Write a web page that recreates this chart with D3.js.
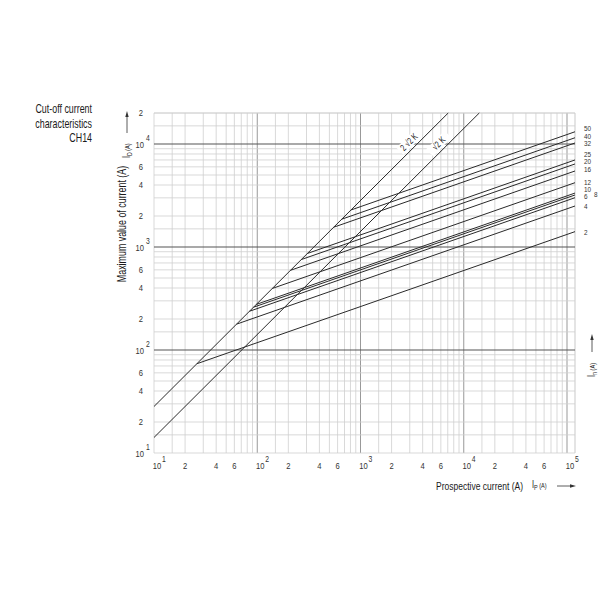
<!DOCTYPE html>
<html>
<head>
<meta charset="utf-8">
<script src="https://cdn.jsdelivr.net/npm/d3@7"></script>
<style>
  body { margin: 0; background: #fff; }
  svg { display: block; }
  text { font-family: "Liberation Sans", Arial, sans-serif; fill: #333; }
</style>
</head>
<body>
<svg id="chart" width="600" height="600"></svg>
<script>
// ---- data ----
const ratings = [2, 4, 6, 8, 10, 12, 16, 20, 25, 32, 40, 50];          // In (A)
const startIp = [26, 63, 84, 92, 98, 140, 210, 267, 306, 550, 658, 809]; // Ip where curve leaves the 2√2 line
const endIc   = [1410, 2500, 3010, 3200, 3340, 4210, 5470, 6400, 7000, 10230, 11500, 13150]; // cut-off current at right border
const ratingLabelAt = [1390, 2450, 3100, 3250, 3600, 4260, 5700, 6700, 7900, 10100, 11900, 14000]; // label positions (Ic) at right edge
const peakFactors = [2 * Math.SQRT2, Math.SQRT2];
const peakLabels = ["2 √2 K", "√2 K"];
const xTickVals = [10, 20, 40, 60, 100, 200, 400, 600, 1000, 2000, 4000, 6000, 10000, 20000, 40000, 60000, 100000];
const yTickVals = [10, 20, 40, 60, 100, 200, 400, 600, 1000, 2000, 4000, 6000, 10000, 20000];
const gridMult = [1, 1.5, 2, 3, 4, 5, 6, 7, 8, 9];
const titleLines = ["Cut-off current", "characteristics", "CH14"];

// ---- helpers ----
const SX = 0.74; // condensed look
function label(parent, px, py, str, opt = {}) {
  const rot = opt.rotate ? ` rotate(${opt.rotate})` : "";
  const t = parent.append("text")
    .attr("transform", `translate(${px},${py})${rot} scale(${opt.sx || SX},1)`)
    .attr("text-anchor", opt.anchor || "start")
    .attr("font-size", opt.size || 9);
  if (opt.fill) t.style("fill", opt.fill);
  if (str !== null) t.text(str);
  return t;
}

// ---- scales ----
const svg = d3.select("#chart");
const x = d3.scaleLog().domain([10, 1e5]).range([154, 567]);
const y = d3.scaleLog().domain([10, 1e4]).range([453, 144]);
const xMax = x.invert(575);
const yMax = 2e4;

// ---- grid ----
const xGrid = [], yGrid = [];
[10, 100, 1000, 10000].forEach(d => gridMult.forEach(m => xGrid.push(d * m)));
xGrid.push(1e5);
[10, 100, 1000, 10000].forEach(d => gridMult.forEach(m => { if (d * m <= yMax) yGrid.push(d * m); }));
const isMajor = v => Math.abs(Math.log10(v) - Math.round(Math.log10(v))) < 1e-9;

const g = svg.append("g");
g.selectAll("line.vg").data(xGrid).join("line")
  .attr("x1", d => x(d)).attr("x2", d => x(d))
  .attr("y1", y(10)).attr("y2", y(yMax))
  .attr("stroke", d => isMajor(d) && d > 10 ? "#999" : "#cfcfcf")
  .attr("stroke-width", d => isMajor(d) && d > 10 ? 1 : 0.8);
g.append("line").attr("x1", x(xMax)).attr("x2", x(xMax)).attr("y1", y(10)).attr("y2", y(yMax))
  .attr("stroke", "#bbb").attr("stroke-width", 0.8);
g.selectAll("line.hg").data(yGrid.concat([yMax])).join("line")
  .attr("x1", x(10)).attr("x2", x(xMax))
  .attr("y1", d => y(d)).attr("y2", d => y(d))
  .attr("stroke", d => isMajor(d) && d > 10 ? "#555" : "#cfcfcf")
  .attr("stroke-width", d => isMajor(d) && d > 10 ? 1.2 : 0.8);

// ---- peak line labels (with white background) ----
const labelIp = [3300, 6400];
peakFactors.forEach((k, i) => {
  const px = x(labelIp[i]), py = y(labelIp[i] * k);
  const gg = svg.append("g").attr("transform", `translate(${px},${py}) rotate(-45)`);
  gg.append("rect").attr("x", -13).attr("y", -12).attr("width", 26).attr("height", 10).attr("fill", "#fff");
  label(gg, 0, -4, peakLabels[i], { anchor: "middle", size: 9.5, fill: "#222" });
});

// ---- cut-off curves ----
const lineGen = d3.line().x(d => x(d[0])).y(d => y(d[1]));
const curves = ratings.map((r, i) => [[startIp[i], peakFactors[0] * startIp[i]], [xMax, endIc[i]]]);
svg.append("g").selectAll("path").data(curves).join("path")
  .attr("d", lineGen).attr("fill", "none").attr("stroke", "#2a2a2a").attr("stroke-width", 1);

// ---- peak lines ----
const peakLines = peakFactors.map(k => [[10, 10 * k], [yMax / k, yMax]]);
svg.append("g").selectAll("path").data(peakLines).join("path")
  .attr("d", lineGen).attr("fill", "none").attr("stroke", "#2a2a2a").attr("stroke-width", 1);

// ---- rating labels ----
const ratingDx = {8: 10};
const rl = svg.append("g");
ratings.forEach((r, i) => {
  label(rl, 584 + (ratingDx[r] || 0), y(ratingLabelAt[i]) + 2.5, String(r), { size: 7.5, sx: 0.85 });
});

// ---- tick labels ----
const xt = svg.append("g");
xTickVals.forEach(v => {
  if (isMajor(v)) {
    label(xt, x(v) + 3, 469, "10", { anchor: "middle", size: 9.5, sx: 0.8 });
    label(xt, x(v) + 10, 462, String(Math.round(Math.log10(v))), { anchor: "middle", size: 8.5, sx: 0.8 });
  } else {
    label(xt, x(v), 469, String(Math.round(v / Math.pow(10, Math.floor(Math.log10(v))))), { anchor: "middle", size: 9.5, sx: 0.8 });
  }
});
const yt = svg.append("g");
yTickVals.forEach(v => {
  if (isMajor(v)) {
    label(yt, 144, y(v) + 4, "10", { anchor: "end", size: 9.5, sx: 0.8 });
    label(yt, 148, y(v) - 3, String(Math.round(Math.log10(v))), { anchor: "middle", size: 8.5, sx: 0.8 });
  } else {
    label(yt, 143, y(v) + 3, String(Math.round(v / Math.pow(10, Math.floor(Math.log10(v))))), { anchor: "end", size: 9.5, sx: 0.8 });
  }
});

// ---- titles ----
titleLines.forEach((s, i) => label(svg, 92, 113 + i * 14.5, s, { anchor: "end", size: 12, fill: "#1a1a1a" }));

// y axis title
label(svg, 126, 224, "Maximum value of current (A)", { anchor: "middle", size: 12, rotate: -90, fill: "#1a1a1a" });
const yl = label(svg, 130, 158, null, { rotate: -90, size: 10, fill: "#222" });
yl.append("tspan").text("I");
yl.append("tspan").attr("font-size", 7).attr("dy", 2).text("D");
yl.append("tspan").attr("font-size", 7.5).attr("dy", -2).attr("dx", 2).text("(A)");
svg.append("line").attr("x1", 127).attr("x2", 127).attr("y1", 133).attr("y2", 116).attr("stroke", "#333").attr("stroke-width", 0.8);
svg.append("path").attr("d", "M127,111 L125.3,117 L128.7,117 Z").attr("fill", "#333");

// x axis title
label(svg, 523, 490, "Prospective current (A)", { anchor: "end", size: 11.5, fill: "#1a1a1a" });
const xl = label(svg, 532, 488, null, { size: 10, fill: "#222" });
xl.append("tspan").text("I");
xl.append("tspan").attr("font-size", 7.5).attr("dy", 2).text("P");
xl.append("tspan").attr("font-size", 7.5).attr("dy", -2).attr("dx", 2).text("(A)");
svg.append("line").attr("x1", 557).attr("x2", 571).attr("y1", 486).attr("y2", 486).attr("stroke", "#333").attr("stroke-width", 0.8);
svg.append("path").attr("d", "M576,486 L570,484.3 L570,487.7 Z").attr("fill", "#333");

// In label right side
const il = label(svg, 595, 377, null, { rotate: -90, size: 10, fill: "#222" });
il.append("tspan").text("I");
il.append("tspan").attr("font-size", 7.5).attr("dy", 2).text("n");
il.append("tspan").attr("font-size", 7.5).attr("dy", -2).attr("dx", 2).text("(A)");
svg.append("line").attr("x1", 592).attr("x2", 592).attr("y1", 352).attr("y2", 339).attr("stroke", "#333").attr("stroke-width", 0.8);
svg.append("path").attr("d", "M592,334 L590.3,340 L593.7,340 Z").attr("fill", "#333");
</script>
</body>
</html>
